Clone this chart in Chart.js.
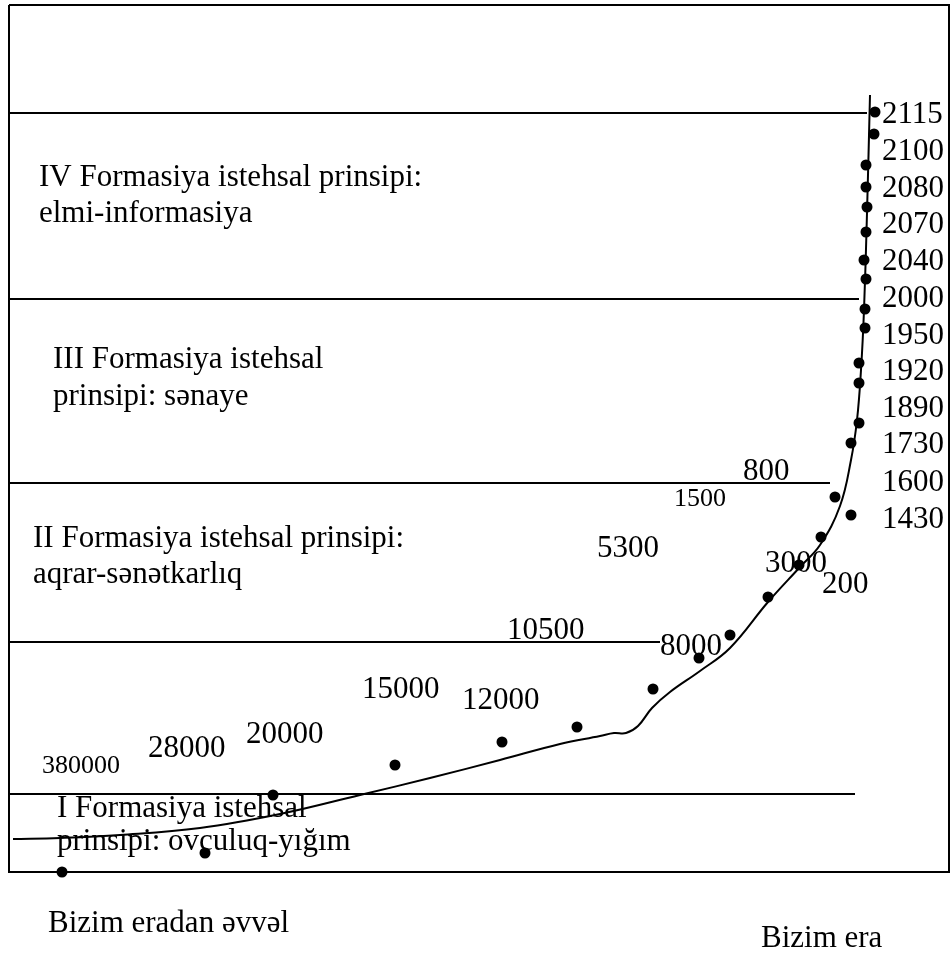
<!DOCTYPE html>
<html lang="az">
<head>
<meta charset="UTF-8">
<title>Formasiyalar</title>
<script src="https://cdn.jsdelivr.net/npm/chart.js"></script>
<style>
  body { margin: 0; background: #fff; }
</style>
</head>
<body>
<canvas id="chart" width="951" height="958"></canvas>
<script>
// tarix nöqtələri (diaqram vahidləri ilə)
const dotX = [62, 205, 273, 395, 502, 577, 653, 699, 730, 768, 799, 821, 851, 835, 851, 859, 859, 859, 865, 865, 866, 864, 866, 867, 866, 866, 874, 875];
const dotY = [872, 853, 795, 765, 742, 727, 689, 658, 635, 597, 565, 537, 515, 497, 443, 423, 383, 363, 328, 309, 279, 260, 232, 207, 187, 165, 134, 112];

// inkişaf əyrisi
const curveX = [13, 60, 120, 200, 280, 360, 430, 500, 560, 600, 614, 626, 638, 652, 670, 700, 730, 768, 800, 820, 840, 851, 857, 861, 864, 867, 870];
const curveY = [839, 838, 835, 828, 814, 795, 778, 760, 744, 736, 733, 733, 726, 708, 692, 671, 648, 602, 567, 545, 506, 460, 420, 370, 310, 213, 95];

// formasiya sərhədləri
const borderY = [113, 299, 483, 642, 794];
const borderEnd = [867, 859, 830, 660, 855];

// sağdakı illər
const yearLabels = ["2115", "2100", "2080", "2070", "2040", "2000", "1950", "1920", "1890", "1730", "1600", "1430"];
const yearY = [123, 160, 197, 233, 270, 307, 344, 380, 417, 453, 491, 528];

// e.ə. illər
const bcLabels = ["800", "1500", "5300", "3000", "200", "8000", "10500", "15000", "12000", "20000", "28000", "380000"];
const bcX = [743, 674, 597, 765, 822, 660, 507, 362, 462, 246, 148, 42];
const bcY = [480, 506, 557, 572, 593, 655, 639, 698, 709, 743, 757, 773];
const bcSize = [31, 26, 31, 31, 31, 31, 31, 31, 31, 31, 31, 26];

// formasiya yazıları
const phaseLines = [
    "IV Formasiya istehsal prinsipi:", "elmi-informasiya",
    "III Formasiya istehsal", "prinsipi: sənaye",
    "II Formasiya istehsal prinsipi:", "aqrar-sənətkarlıq",
    "I Formasiya istehsal", "prinsipi: ovçuluq-yığım",
    "Bizim eradan əvvəl", "Bizim era"
];
const phaseX = [39, 39, 53, 53, 33, 33, 57, 57, 48, 761];
const phaseY = [186, 222, 368, 405, 547, 583, 817, 850, 932, 947];

const FONT = "'Liberation Serif', 'Times New Roman', serif";

const datasets = [];

// çərçivə
datasets.push({
    data: [{x: 9, y: 5}, {x: 949, y: 5}, {x: 949, y: 872}, {x: 9, y: 872}, {x: 9, y: 5}],
    showLine: true, borderColor: "#000", borderWidth: 2, pointRadius: 0, tension: 0
});

borderY.forEach((y, i) => {
    datasets.push({
        data: [{x: 9, y: y}, {x: borderEnd[i], y: y}],
        showLine: true, borderColor: "#000", borderWidth: 2, pointRadius: 0, tension: 0
    });
});

datasets.push({
    data: curveX.map((x, i) => ({x: x, y: curveY[i]})),
    showLine: true, borderColor: "#000", borderWidth: 2, pointRadius: 0, tension: 0.4
});

datasets.push({
    data: dotX.map((x, i) => ({x: x, y: dotY[i]})),
    showLine: false, pointRadius: 5.5, pointBackgroundColor: "#000", pointBorderWidth: 0
});

const textPlugin = {
    id: "texts",
    beforeDatasetsDraw(chart) {
        const c = chart.ctx;
        const sx = chart.scales.x, sy = chart.scales.y;
        c.save();
        c.fillStyle = "#000";
        c.textBaseline = "alphabetic";
        c.textAlign = "left";
        const put = (txt, x, y, size) => {
            c.font = size + "px " + FONT;
            c.fillText(txt, sx.getPixelForValue(x), sy.getPixelForValue(y));
        };
        phaseLines.forEach((t, i) => put(t, phaseX[i], phaseY[i], 31));
        yearLabels.forEach((t, i) => put(t, 882, yearY[i], 31));
        bcLabels.forEach((t, i) => put(t, bcX[i], bcY[i], bcSize[i]));
        c.restore();
    }
};

new Chart(document.getElementById("chart"), {
    type: "scatter",
    data: { datasets: datasets },
    options: {
        responsive: false,
        animation: false,
        events: [],
        layout: { padding: 0, autoPadding: false },
        plugins: { legend: { display: false }, tooltip: { enabled: false } },
        scales: {
            x: { type: "linear", min: 0, max: 951, display: false },
            y: { type: "linear", min: 0, max: 958, reverse: true, display: false }
        }
    },
    plugins: [textPlugin]
});
</script>
</body>
</html>
